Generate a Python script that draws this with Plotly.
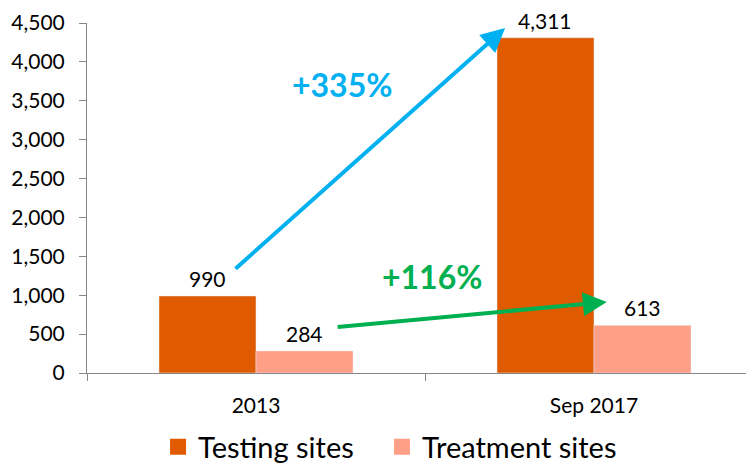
import plotly.graph_objects as go

categories = ["2013", "Sep 2017"]
testing = [990, 4311]
treatment = [284, 613]
series_names = ["Testing sites", "Treatment sites"]
colors = ["#E05A00", "#FF9F86"]
growth_labels = ["+335%", "+116%"]
y_ticks = [0, 500, 1000, 1500, 2000, 2500, 3000, 3500, 4000, 4500]

FONT = "Lato, 'Open Sans', sans-serif"
BAR_HALF_PX = 48.5  # half of a bar width in pixels, for label placement

fig = go.Figure()
for name, vals, col in zip(series_names, [testing, treatment], colors):
    fig.add_trace(go.Bar(
        x=categories, y=vals, name=name, marker_color=col, showlegend=False,
    ))
# value labels above each bar (x given as category index)
for shift, vals in zip([-BAR_HALF_PX, BAR_HALF_PX], [testing, treatment]):
    for i, v in enumerate(vals):
        fig.add_annotation(
            x=i, y=v, xref="x", yref="y", text=f"{v:,}", showarrow=False,
            xshift=shift, yshift=3, yanchor="bottom",
            font=dict(family=FONT, size=21, color="#000000"),
        )
# legend proxies (square markers), one legend box per entry
legend_ids = ["legend", "legend2"]
for name, col, lg in zip(series_names, colors, legend_ids):
    fig.add_trace(go.Scatter(
        x=[None], y=[None], mode="markers", name=name, legend=lg,
        marker=dict(symbol="square", size=18, color=col),
    ))

# arrows (data coordinates)
arrows = [
    dict(tail=(-0.065, 1324), head=(0.737, 4436), color="#00B0F0", label=growth_labels[0], lab=(0.255, 3710)),
    dict(tail=(0.237, 591), head=(1.038, 913), color="#00B050", label=growth_labels[1], lab=(0.52, 1240)),
]
for a in arrows:
    fig.add_annotation(
        x=a["head"][0], y=a["head"][1], ax=a["tail"][0], ay=a["tail"][1],
        xref="x", yref="y", axref="x", ayref="y", text="", showarrow=True,
        arrowhead=2, arrowsize=1.2, arrowwidth=4, arrowcolor=a["color"], standoff=0,
    )
    fig.add_annotation(
        x=a["lab"][0], y=a["lab"][1], xref="x", yref="y", text="<b>%s</b>" % a["label"],
        showarrow=False, font=dict(family=FONT, size=32, color=a["color"]),
    )

legend_style = dict(orientation="h", xref="container", yref="container",
                    xanchor="left", y=0.054, yanchor="middle",
                    font=dict(family=FONT, size=29, color="#000000"))
fig.update_layout(
    width=754, height=464,
    margin=dict(l=79, r=8, t=15, b=99, autoexpand=False),
    paper_bgcolor="white", plot_bgcolor="white",
    barmode="group", bargap=0.426, bargroupgap=0,
    font=dict(family=FONT, color="#000000"),
    legend=dict(x=0.199, **legend_style),
    legend2=dict(x=0.496, **legend_style),
)
fig.update_xaxes(
    type="category", range=[-0.5, 1.4734], showline=True, linecolor="#868686", linewidth=1,
    ticks="outside", tickson="boundaries", ticklen=7, tickcolor="#868686", automargin=False,
    ticklabelstandoff=14,
    tickfont=dict(family=FONT, size=21, color="#000000"), showgrid=False,
)
fig.update_yaxes(
    range=[0, 4500], tickvals=y_ticks, tickformat=",", showline=True, linecolor="#868686",
    linewidth=1, ticks="outside", ticklen=7, tickcolor="#868686", showgrid=False, zeroline=False,
    automargin=False, ticklabelstandoff=10, tickfont=dict(family=FONT, size=21, color="#000000"),
)

fig.write_html("out.html")
